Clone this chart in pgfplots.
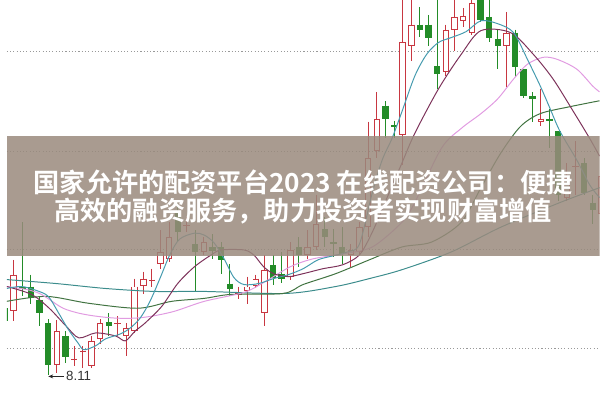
\documentclass[border=0pt]{standalone}
\usepackage{pgfplots}
\pgfplotsset{compat=1.18}
\usepackage{pgfplotstable}
\usetikzlibrary{arrows.meta}
\usepackage{fontspec}
\setmainfont{Liberation Sans}
\newfontfamily\cjk{Noto Sans CJK SC}[BoldFont={Noto Sans CJK SC Bold}]
\definecolor{cred}{RGB}{200,55,65}
\definecolor{cgreen}{RGB}{35,140,40}
\definecolor{cma5}{RGB}{70,155,175}
\definecolor{cma10}{RGB}{125,50,90}
\definecolor{cma20}{RGB}{225,155,225}
\definecolor{cma30}{RGB}{65,115,65}
\definecolor{cma60}{RGB}{60,140,140}
\definecolor{banner}{RGB}{154,138,125}

% candles, values are pixel rows from the top
\pgfplotstableread{
i hi top bot lo
0 263 278 315 325
5 324 335 369 378
9 340 345 370 372
10 323 327 343 348
13 327 332 340 360
14 282 290 335 337
15 275 282 289 298
17 233 255 267 272
18 225 240 262 265
22 240 245 255 258
27 280 290 295 308
28 278 282 289 292
29 258 273 317 330
32 245 253 280 283
34 233 250 258 262
35 197 227 250 253
39 247 253 258 270
40 225 230 255 258
41 123 160 230 240
42 93 120 153 160
45 -5 43 137 167
46 -5 25 47 62
50 25 30 73 77
51 -5 17 30 52
52 8 16 21 27
53 -5 3 33 35
57 12 33 47 88
61 90 120 123 128
64 165 180 200 203
68 170 178 217 225
}\redc
\pgfplotstableread{
i hi top lo
7 350 363 370
8 350 355 372
12 320 327 340
16 272 283 290
20 220 228 235
26 290 297 303
65 143 168 197
}\redx
\pgfplotstableread{
i hi top bot lo
-1 300 312 325 330
1 225 290 293 300
2 278 290 302 308
3 300 304 317 330
4 323 327 369 380
6 335 340 361 367
11 317 326 330 340
19 205 215 235 245
21 233 247 255 295
23 237 250 254 262
24 245 250 263 277
25 267 287 293 300
30 258 268 281 288
31 255 277 282 286
33 240 250 258 270
36 220 232 240 250
37 232 245 246.5 260
38 230 250 257 267
43 102 107 120 140
44 122 127 128.5 140
47 7 25 30 37
48 15 25 38 47
49 -5 67 75 90
54 -5 -5 20 22
55 -5 17 38 43
56 30 39 47 70
58 30 33 68 78
59 70 70 97 99
60 93 97 100 123
62 110 120 122 150
63 133 133 197 203
66 160 165 195 197
67 197 205 213 227
}\greenc

\pgfplotstableread{
x y
0 292
15 290
30 294
42 300
52 316
62 333
72 347
78 354
90 350
100 343
115 338
125 332
135 322
145 305
155 282
165 258
175 242
190 236
200 238
210 246
220 262
230 281
240 288
255 287
270 282
285 278
300 272
315 263
330 259
345 255
357 247
370 195
380 162
390 140
400 113
413 77
425 55
437 43
450 38
465 32
480 21
497 24
513 33
527 60
540 87
550 110
560 133
577 162
590 187
600 200
}\maA
\pgfplotstableread{
x y
0 290
25 298
43 312
60 330
73 342
90 337
110 340
120 345
130 335
140 327
157 310
173 287
190 270
207 258
217 253
240 253
250 258
260 270
270 277
285 280
300 277
320 272
340 268
357 258
370 235
385 200
400 165
413 135
437 90
460 55
480 31
510 33
533 55
553 80
573 112
590 140
600 158
}\maB
\pgfplotstableread{
x y
0 290
20 293
33 297
43 303
57 312
73 317
90 320
110 322
130 322
147 320
170 315
200 305
240 296
260 286
287 270
310 262
340 257
370 250
400 225
413 205
440 150
460 130
480 115
497 100
513 80
527 65
543 58
557 60
577 70
593 87
600 93
}\maC
\pgfplotstableread{
x y
0 305
40 300
83 307
133 312
167 305
200 302
227 298
280 297
300 288
333 277
367 263
400 250
430 245
460 225
480 190
500 155
520 128
540 115
570 108
600 102
}\maD
\pgfplotstableread{
x y
0 283
50 287
100 292
150 295
200 295
283 297
333 290
367 282
400 273
450 255
500 230
560 205
600 190
}\maE

\begin{document}
\begin{tikzpicture}
\begin{axis}[
  width=600bp, height=400bp, scale only axis,
  xmin=0, xmax=600, ymin=0, ymax=400, y dir=reverse,
  axis line style={draw=none},
  xtick=\empty, ytick={52,153,253,353}, yticklabels={},
  major tick length=0pt,
  ymajorgrids, grid style={dash pattern=on 1.1bp off 2.2bp, color=black!40, line width=1bp},
]
% wicks
\addplot[draw=none, mark=none, forget plot, error bars/.cd, y dir=plus, y explicit, error mark=none,
  error bar style={draw=cgreen, line width=1bp}]
  table[x expr=7+8.75*\thisrow{i}, y=hi, y error plus expr=\thisrow{lo}-\thisrow{hi}] {\greenc};
\addplot[draw=none, mark=none, forget plot, error bars/.cd, y dir=plus, y explicit, error mark=none,
  error bar style={draw=cred, line width=1bp}]
  table[x expr=7+8.75*\thisrow{i}, y=hi, y error plus expr=\thisrow{lo}-\thisrow{hi}] {\redc};
\addplot[draw=none, mark=none, forget plot, error bars/.cd, y dir=plus, y explicit, error mark=none,
  error bar style={draw=cred, line width=1bp}]
  table[x expr=7+8.75*\thisrow{i}, y=hi, y error plus expr=\thisrow{lo}-\thisrow{hi}] {\redx};
% bodies
\addplot[draw=none, mark=none, forget plot, error bars/.cd, y dir=plus, y explicit, error mark=none,
  error bar style={draw=cgreen, line width=6.5bp}]
  table[x expr=7+8.75*\thisrow{i}, y=top, y error plus expr=\thisrow{bot}-\thisrow{top}] {\greenc};
\addplot[draw=none, mark=none, forget plot, error bars/.cd, y dir=plus, y explicit, error mark=none,
  error bar style={draw=cred, line width=6.5bp}]
  table[x expr=7+8.75*\thisrow{i}, y=top, y error plus expr=\thisrow{bot}-\thisrow{top}] {\redc};
\addplot[draw=none, mark=none, forget plot, error bars/.cd, y dir=plus, y explicit, error mark=none,
  error bar style={draw=white, line width=4.5bp}]
  table[x expr=7+8.75*\thisrow{i}, y expr=\thisrow{top}+1, y error plus expr=\thisrow{bot}-\thisrow{top}-2] {\redc};
\addplot[draw=none, mark=none, forget plot, error bars/.cd, y dir=plus, y explicit, error mark=none,
  error bar style={draw=cred, line width=6.5bp}]
  table[x expr=7+8.75*\thisrow{i}, y=top, y error plus expr=1.2] {\redx};
% moving averages
\addplot[cma60, line width=1bp, smooth, mark=none] table {\maE};
\addplot[cma30, line width=1bp, smooth, mark=none] table {\maD};
\addplot[cma20, line width=1bp, smooth, mark=none] table {\maC};
\addplot[cma10, line width=1bp, smooth, mark=none] table {\maB};
\addplot[cma5, line width=1bp, smooth, mark=none] table {\maA};
% low marker
\draw[-{Stealth[length=5bp,width=4bp]}, line width=0.8bp, black!85] (axis cs:58,381) -- (axis cs:42,381);
\node[font=\fontsize{13.5}{14}\selectfont, text=black!80, anchor=west, inner sep=0pt] at (axis cs:60,381) {8.11};
% banner
\fill[banner, opacity=0.85] (axis cs:0,138) rectangle (axis cs:600,259);
\node[text=white, font=\cjk\bfseries\fontsize{26.6}{28}\selectfont, inner sep=0pt] at (axis cs:300,185) {国家允许的配资平台2023 在线配资公司：便捷};
\node[text=white, font=\cjk\bfseries\fontsize{26.6}{28}\selectfont, inner sep=0pt] at (axis cs:300,214) {高效的融资服务，助力投资者实现财富增值};
\end{axis}
\end{tikzpicture}
\end{document}
